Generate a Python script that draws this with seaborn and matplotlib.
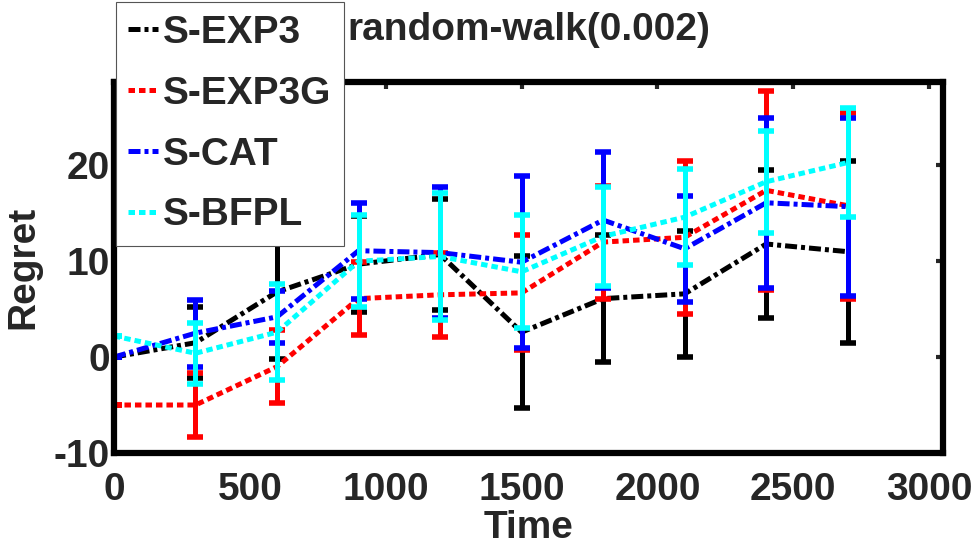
import numpy as np
import pandas as pd
import matplotlib
matplotlib.use('Agg')
import matplotlib.pyplot as plt
import seaborn as sns

# Data
time = [0, 300, 600, 900, 1200, 1500, 1800, 2100, 2400, 2700]
names = ['S-EXP3', 'S-EXP3G', 'S-CAT', 'S-BFPL']

exp3 = [0.0, 1.5, 6.8, 9.7, 10.7, 2.6, 6.1, 6.6, 11.8, 11.0]
exp3_err = [0.0, 3.7, 7.0, 5.0, 5.8, 7.9, 6.6, 6.6, 7.7, 9.5]

exp3g = [-5.0, -5.0, -1.0, 6.1, 6.5, 6.7, 12.0, 12.5, 17.4, 15.8]
exp3g_err = [0.0, 3.3, 3.8, 3.8, 4.4, 6.0, 5.9, 8.0, 10.4, 9.7]

cat = [0.0, 2.5, 4.2, 11.1, 10.9, 9.9, 14.3, 11.3, 16.1, 15.7]
cat_err = [0.0, 3.5, 2.7, 5.0, 6.8, 9.0, 7.1, 5.5, 8.9, 9.3]

bfpl = [2.2, 0.4, 2.6, 10.0, 10.5, 8.9, 12.6, 14.6, 18.3, 20.3]
bfpl_err = [0.0, 3.2, 5.0, 4.8, 6.6, 5.9, 5.2, 5.0, 5.3, 5.7]

sns.set_style('white')
plt.rcParams['font.family'] = ['Liberation Sans', 'DejaVu Sans']
plt.rcParams['font.weight'] = 'bold'
plt.rcParams['axes.unicode_minus'] = False

fs = 28

fig = plt.figure(figsize=(9.74, 5.47), dpi=100)
ax = fig.add_axes([0.117, 0.172, 0.851, 0.678])

series = [
    (exp3, exp3_err, 'black', (2.4, 0.8, 0.8, 0.8)),
    (exp3g, exp3g_err, 'red', (1.3, 0.8)),
    (cat, cat_err, 'blue', (2.4, 0.8, 0.8, 0.8)),
    (bfpl, bfpl_err, 'cyan', (1.3, 0.8)),
]

for name, (vals, errs, col, dash) in zip(names, series):
    df = pd.DataFrame({'Time': time, 'Regret': vals})
    sns.lineplot(data=df, x='Time', y='Regret', ax=ax, color=col,
                 linewidth=3.6, label=name)
    ax.lines[-1].set_dashes(dash)
    ax.errorbar(time, vals, yerr=errs, fmt='none', ecolor=col,
                elinewidth=3.6, capsize=5.5, capthick=4)

# the box runs a little past the 3000 tick, as in the original
ax.set_xlim(0, 3050)
ax.set_ylim(-10, 28.7)
ax.set_xticks(range(0, 3001, 500))
ax.set_yticks([-10, 0, 10, 20])
ax.tick_params(direction='in', length=5, width=3, labelsize=fs,
               top=True, right=True)
ax.tick_params(axis='x', pad=14)
ax.tick_params(axis='y', pad=3)
for lab in ax.get_xticklabels() + ax.get_yticklabels():
    lab.set_fontweight('bold')
for sp in ax.spines.values():
    sp.set_linewidth(4.5)
    sp.set_color('black')

ax.set_xlabel('Time', fontsize=fs, fontweight='bold', labelpad=1)
ax.set_ylabel('Regret', fontsize=fs, fontweight='bold', labelpad=9)
ax.set_title('random-walk(0.002)', fontsize=fs, fontweight='bold', pad=30)

leg = ax.legend(loc='upper left', bbox_to_anchor=(0.002, 1.215),
                fontsize=fs, handlelength=0.77, handletextpad=0.13,
                borderpad=0.32, labelspacing=0.64, borderaxespad=0,
                fancybox=False, framealpha=1, edgecolor='#555555')
leg.get_frame().set_linewidth(0.8)
leg.set_zorder(10)
for t in leg.get_texts():
    t.set_fontweight('bold')

fig.savefig('out.png', dpi=100)
